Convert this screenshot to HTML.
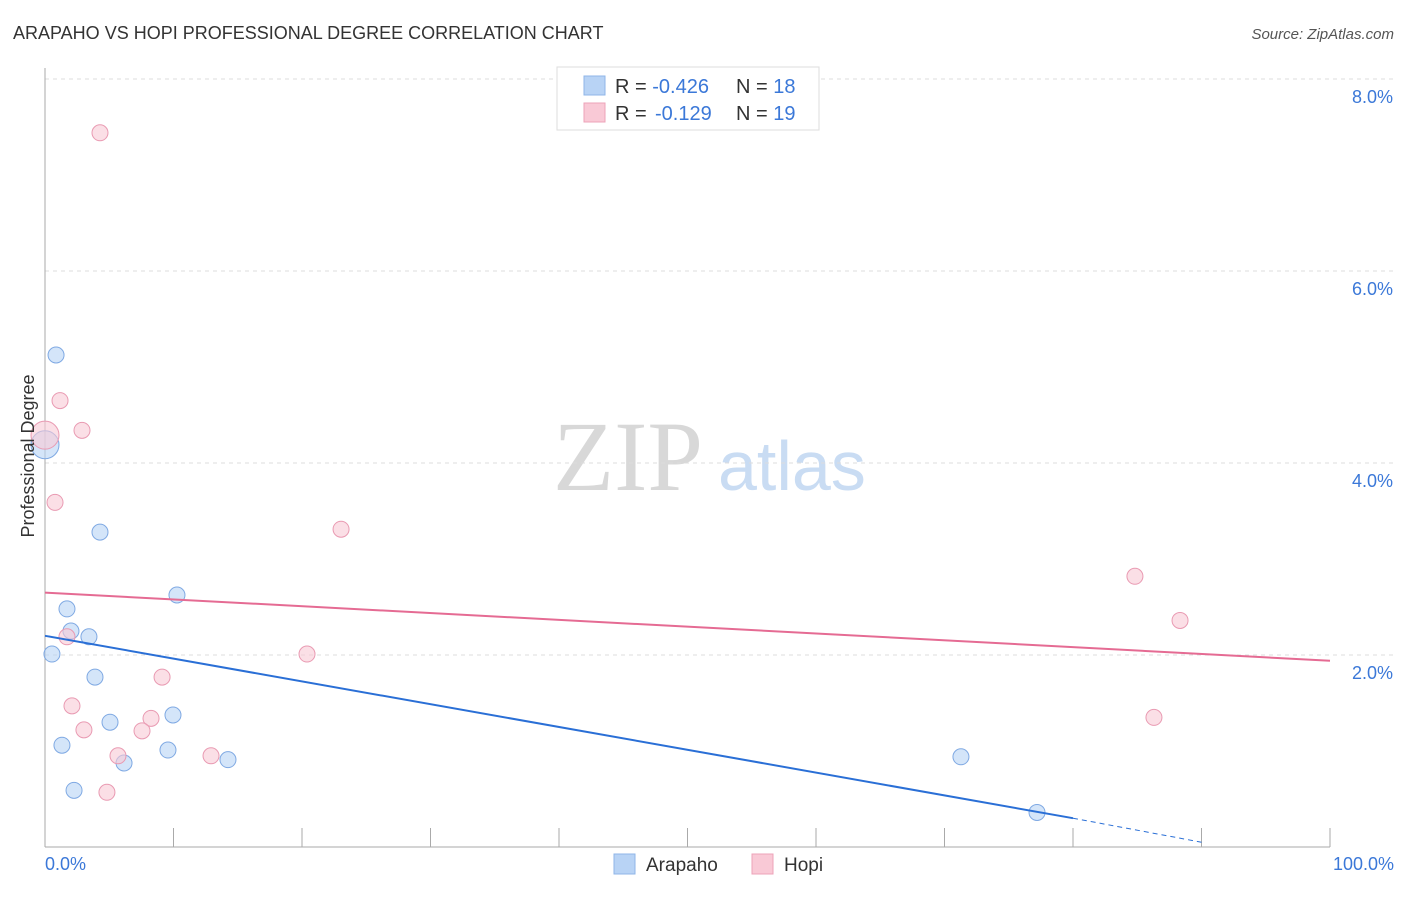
<!DOCTYPE html>
<html><head><meta charset="utf-8"><style>
body{margin:0;background:#fff;font-family:"Liberation Sans",sans-serif}
svg text{font-family:"Liberation Sans",sans-serif}
</style></head><body>
<svg width="1406" height="892" viewBox="0 0 1406 892">
<text x="13" y="39" font-size="18" fill="#333">ARAPAHO VS HOPI PROFESSIONAL DEGREE CORRELATION CHART</text>
<text x="1394" y="39" font-size="15" fill="#555" font-style="italic" text-anchor="end">Source: ZipAtlas.com</text>
<text x="553" y="490" font-size="100" fill="#d8d8d8" style="font-family:'Liberation Serif',serif">ZIP</text>
<text x="718" y="490" font-size="70" fill="#c9dcf3">atlas</text>
<g id="grid"></g><g id="axes"></g><g id="marks"></g>
<text x="34" y="456" font-size="18" fill="#333" transform="rotate(-90 34 456)" text-anchor="middle">Professional Degree</text>
<g>
<rect x="557" y="67" width="262" height="63" fill="#fff" stroke="#ddd"/>
<rect x="584" y="76" width="21" height="19" fill="#b8d3f5" stroke="#8fb6e8"/>
<rect x="584" y="103" width="21" height="19" fill="#f9c9d6" stroke="#eda3b8"/>
<text x="615" y="93" font-size="20" fill="#333">R = <tspan fill="#3b78d8">-0.426</tspan><tspan x="736">N = </tspan><tspan fill="#3b78d8">18</tspan></text>
<text x="615" y="120" font-size="20" fill="#333">R = <tspan fill="#3b78d8" x="655">-0.129</tspan><tspan x="736">N = </tspan><tspan fill="#3b78d8">19</tspan></text>
</g>
<g>
<rect x="614" y="854" width="21" height="20" fill="#b8d3f5" stroke="#8fb6e8"/>
<text x="646" y="871" font-size="19" fill="#333">Arapaho</text>
<rect x="752" y="854" width="21" height="20" fill="#f9c9d6" stroke="#eda3b8"/>
<text x="784" y="871" font-size="19" fill="#333">Hopi</text>
</g>
</svg>
<script>
const ns="http://www.w3.org/2000/svg";
const yTicks=[2,4,6,8];
const yTickLabels=["2.0%","4.0%","6.0%","8.0%"];
const xTickLabels=["0.0%","100.0%"];
const arapahoX=[0.86,0,1.71,2.02,3.42,0.54,3.89,5.06,1.32,6.15,9.57,9.96,10.27,4.28,2.26,14.24,71.28,77.2];
const arapahoY=[5.125,4.19,2.48,2.25,2.19,2.01,1.77,1.30,1.06,0.875,1.01,1.375,2.625,3.28,0.59,0.91,0.94,0.36];
const hopiX=[4.28,1.17,2.88,0,0.78,1.71,23.04,20.39,9.11,2.1,3.03,8.25,7.55,5.68,12.92,4.82,84.82,88.33,86.3];
const hopiY=[7.44,4.65,4.34,4.29,3.59,2.19,3.31,2.01,1.77,1.47,1.22,1.34,1.21,0.95,0.95,0.57,2.82,2.36,1.35];
const arapahoTrend=[2.20,0.30,0.05];
const hopiTrend=[2.65,1.94];
const X=v=>45+v*12.85, Y=v=>847-v*96;
function mk(tag,attrs,parent){const e=document.createElementNS(ns,tag);for(const k in attrs)e.setAttribute(k,attrs[k]);document.getElementById(parent).appendChild(e);return e;}
yTicks.forEach((t,i)=>{
 const l=mk("line",{x1:45,x2:1394,y1:Y(t),y2:Y(t),stroke:"#ddd","stroke-dasharray":"4 4"},"grid");
 
 
 const tx=mk("text",{x:1393,y:Y(t)+24,"font-size":18,fill:"#3b78d8","text-anchor":"end"},"grid");
 tx.textContent=yTickLabels[i];
 
 
});
const ax=mk("line",{x1:45,x2:1330,y1:847,y2:847,stroke:"#aaa"},"axes");


const ay=mk("line",{x1:45,x2:45,y1:68,y2:847,stroke:"#aaa"},"axes");


for(let i=1;i<=10;i++){const t=mk("line",{x1:X(i*10),x2:X(i*10),y1:828,y2:847,stroke:"#aaa"},"axes");
 
 }
[[0,"start",45],[100,"end",1394]].forEach((d,i)=>{const t=mk("text",{x:d[2],y:870,"font-size":18,fill:"#3b78d8","text-anchor":d[1]},"axes");t.textContent=xTickLabels[i];
 
 });
function dots(xs,ys,fill,stroke,name){xs.forEach((x,i)=>{const r=(x===0)?14:8;const c=mk("circle",{cx:X(x),cy:Y(ys[i]),r:r,fill:fill,"fill-opacity":0.6,stroke:stroke,"stroke-width":1},"marks");
 
 });}
dots(arapahoX,arapahoY,"#b8d3f5","#7fa9e3","arapaho-point");
dots(hopiX,hopiY,"#f9c9d6","#e99ab2","hopi-point");
let l1=mk("line",{x1:X(0),y1:Y(arapahoTrend[0]),x2:X(80),y2:Y(arapahoTrend[1]),stroke:"#2a6fd6","stroke-width":2},"marks");


let l2=mk("line",{x1:X(80),y1:Y(arapahoTrend[1]),x2:X(90),y2:Y(arapahoTrend[2]),stroke:"#2a6fd6","stroke-width":1,"stroke-dasharray":"5 4"},"marks");


let l3=mk("line",{x1:X(0),y1:Y(hopiTrend[0]),x2:X(100),y2:Y(hopiTrend[1]),stroke:"#e56b93","stroke-width":2},"marks");


</script>
</body></html>
